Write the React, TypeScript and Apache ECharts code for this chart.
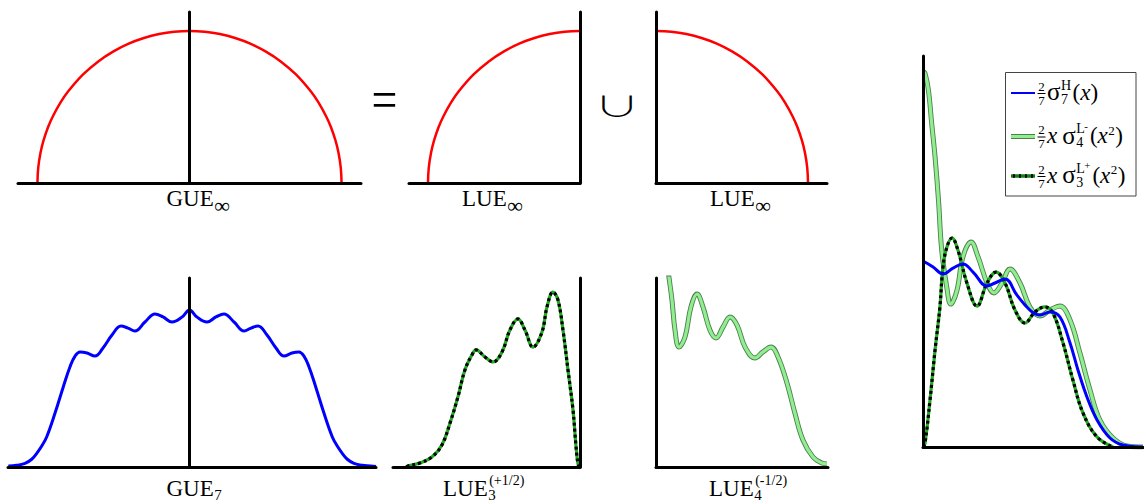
import React, { useEffect, useRef } from "react";
import * as echarts from "echarts";

// ---------- data ----------
// semicircle law (GUE_inf), radius-normalised
const semiX = [-1, -0.995, -0.98, -0.96, -0.93, -0.9, -0.85, -0.8, -0.7, -0.6, -0.5, -0.4, -0.3, -0.2, -0.1, 0, 0.1, 0.2, 0.3, 0.4, 0.5, 0.6, 0.7, 0.8, 0.85, 0.9, 0.93, 0.96, 0.98, 0.995, 1];
const semiY = [0, 0.1, 0.199, 0.28, 0.368, 0.436, 0.527, 0.6, 0.714, 0.8, 0.866, 0.917, 0.954, 0.98, 0.995, 1, 0.995, 0.98, 0.954, 0.917, 0.866, 0.8, 0.714, 0.6, 0.527, 0.436, 0.368, 0.28, 0.199, 0.1, 0];

// GUE_7 density
const gue7X = [-1.192, -1.137, -1.082, -1.038, -1.005, -0.972, -0.939, -0.885, -0.83, -0.786, -0.753, -0.72, -0.674, -0.622, -0.569, -0.51, -0.451, -0.405, -0.359, -0.293, -0.227, -0.174, -0.115, -0.049, 0, 0.049, 0.115, 0.174, 0.227, 0.293, 0.359, 0.405, 0.451, 0.51, 0.569, 0.622, 0.674, 0.72, 0.753, 0.786, 0.83, 0.885, 0.939, 0.972, 1.005, 1.038, 1.082, 1.137, 1.192, 1.227];
const gue7Y = [0.007, 0.011, 0.024, 0.051, 0.09, 0.138, 0.199, 0.353, 0.528, 0.66, 0.73, 0.757, 0.75, 0.73, 0.783, 0.868, 0.928, 0.914, 0.895, 0.954, 1.007, 0.987, 0.954, 0.987, 1.033, 0.987, 0.954, 0.987, 1.007, 0.954, 0.895, 0.914, 0.928, 0.868, 0.783, 0.73, 0.75, 0.757, 0.73, 0.66, 0.528, 0.353, 0.199, 0.138, 0.09, 0.051, 0.024, 0.011, 0.007, 0.003];

// LUE_3^(+1/2) density (mirrored, axis on the right)
const lue3X = [-1.14, -1.132, -1.053, -0.974, -0.908, -0.855, -0.803, -0.757, -0.711, -0.684, -0.625, -0.572, -0.513, -0.461, -0.408, -0.362, -0.309, -0.25, -0.217, -0.178, -0.145, -0.112, -0.079, -0.046, -0.026, -0.013, -0.003];
const lue3Y = [0, 0.007, 0.026, 0.066, 0.145, 0.289, 0.461, 0.638, 0.737, 0.77, 0.724, 0.691, 0.757, 0.901, 0.974, 0.901, 0.789, 0.888, 1.053, 1.151, 1.099, 0.901, 0.638, 0.375, 0.132, 0.02, 0];

// LUE_4^(-1/2) density
const lue4X = [0.066, 0.086, 0.105, 0.125, 0.151, 0.191, 0.23, 0.27, 0.309, 0.355, 0.395, 0.441, 0.487, 0.533, 0.586, 0.651, 0.704, 0.757, 0.803, 0.862, 0.914, 0.967, 1.033, 1.092, 1.125];
const lue4Y = [1.388, 1.243, 1.099, 0.901, 0.789, 0.855, 1.053, 1.138, 1.053, 0.901, 0.849, 0.921, 0.987, 0.934, 0.789, 0.717, 0.757, 0.789, 0.724, 0.553, 0.355, 0.178, 0.066, 0.026, 0.02];

// right panel: (2/7) sigma_7^H(x)
const hX = [0, 0.056, 0.111, 0.167, 0.222, 0.278, 0.356, 0.4, 0.456, 0.522, 0.594, 0.65, 0.706, 0.761, 0.817, 0.861, 0.911, 0.967, 1.039, 1.111, 1.222];
const hY = [1.033, 1.0, 0.961, 0.994, 1.017, 0.972, 0.894, 0.911, 0.933, 0.844, 0.761, 0.733, 0.75, 0.722, 0.578, 0.428, 0.278, 0.15, 0.05, 0.011, 0];
// right panel: (2/7) x sigma_4^{L-}(x^2)
const lmX = [0, 0.011, 0.03, 0.048, 0.067, 0.086, 0.104, 0.132, 0.154, 0.189, 0.222, 0.267, 0.306, 0.356, 0.394, 0.439, 0.483, 0.539, 0.594, 0.65, 0.706, 0.761, 0.817, 0.872, 0.928, 0.983, 1.056, 1.133, 1.222];
const lmY = [2.085, 2.076, 1.983, 1.8, 1.611, 1.372, 1.094, 0.889, 0.794, 0.872, 1.056, 1.139, 1.056, 0.911, 0.856, 0.911, 0.989, 0.911, 0.778, 0.728, 0.761, 0.783, 0.706, 0.522, 0.317, 0.15, 0.05, 0.006, 0];
// right panel: (2/7) x sigma_3^{L+}(x^2)
const lpX = [0, 0.011, 0.039, 0.067, 0.094, 0.111, 0.133, 0.161, 0.194, 0.244, 0.3, 0.356, 0.406, 0.456, 0.511, 0.567, 0.622, 0.678, 0.722, 0.778, 0.833, 0.889, 0.967, 1.056];
const lpY = [0, 0.02, 0.261, 0.539, 0.778, 1.0, 1.111, 1.161, 1.094, 0.911, 0.783, 0.911, 0.972, 0.911, 0.761, 0.689, 0.75, 0.778, 0.744, 0.578, 0.372, 0.189, 0.056, 0];

// panel labels
const panelLabels = [
  { main: "GUE", sub: "∞", sup: "" },
  { main: "LUE", sub: "∞", sup: "" },
  { main: "LUE", sub: "∞", sup: "" },
  { main: "GUE", sub: "7", sup: "" },
  { main: "LUE", sub: "3", sup: "(+1/2)" },
  { main: "LUE", sub: "4", sup: "(-1/2)" },
];

// ---------- helpers ----------
const SERIF = '"Liberation Serif", "Times New Roman", serif';
const CJK = '"Noto Sans CJK SC", "DejaVu Sans", sans-serif';

let measureCtx: any = null;
function tw(text: string, size: number, italic = false, family = SERIF) {
  if (!measureCtx) measureCtx = document.createElement("canvas").getContext("2d");
  measureCtx.font = `${italic ? "italic " : ""}${size}px ${family}`;
  return measureCtx.measureText(text).width;
}

function txt(text: string, x: number, baseline: number, size: number, o: any = {}) {
  const family = o.family || SERIF;
  const central = o.central ?? 0.3375;
  return {
    type: "text",
    silent: true,
    z: 100,
    x,
    y: baseline - central * size,
    scaleX: o.scaleX ?? 1,
    scaleY: o.scaleY ?? 1,
    style: {
      text,
      fill: "#000",
      fontSize: size,
      fontFamily: family,
      fontStyle: o.italic ? "italic" : "normal",
      fontWeight: o.weight || "normal",
      align: o.align || "left",
      verticalAlign: "middle",
      textAlign: o.align || "left",
      textVerticalAlign: "middle",
    },
  };
}

function zip(xs: number[], ys: number[]) {
  const n = Math.min(xs.length, ys.length);
  const out: number[][] = [];
  for (let i = 0; i < n; i++) out.push([xs[i], ys[i]]);
  return out;
}

const AXIS_LINE = { show: true, onZero: true, lineStyle: { color: "#000", width: 3 } };
function axis(grid: number, min: number, max: number) {
  return {
    type: "value",
    gridIndex: grid,
    min,
    max,
    z: 10,
    axisLine: AXIS_LINE,
    axisTick: { show: false },
    axisLabel: { show: false },
    splitLine: { show: false },
  };
}

function line(grid: number, data: number[][], color: string, width: number, extra: any = {}) {
  return {
    type: "line",
    xAxisIndex: grid,
    yAxisIndex: grid,
    data,
    smooth: 0.4,
    symbol: "none",
    showSymbol: false,
    silent: true,
    clip: true,
    z: extra.z ?? 2,
    lineStyle: { color, width, type: extra.dash || "solid", cap: "butt", join: "round" },
  };
}

function label(x: number, base: number, l: { main: string; sub: string; sup: string }) {
  const els: any[] = [txt(l.main, x, base, 23)];
  const after = x + tw(l.main, 23);
  if (l.sub === "∞") els.push(txt("∞", after + 0.5, base + 7, 22));
  else if (l.sub) els.push(txt(l.sub, after + 0.5, base + 4.5, 15));
  if (l.sup) els.push(txt(l.sup, after + 1.5, base - 11, 14));
  return els;
}

function legendGraphics() {
  const els: any[] = [];
  els.push({
    type: "rect",
    silent: true,
    z: 90,
    shape: { x: 1005.5, y: 72.5, width: 130.5, height: 123.5 },
    style: { fill: "#fff", stroke: "#444", lineWidth: 1 },
  });
  const rows = [93, 136.5, 176];
  const x1 = 1011, x2 = 1035;
  // samples
  els.push({ type: "line", silent: true, z: 95, shape: { x1, y1: rows[0], x2, y2: rows[0] }, style: { stroke: "#0000ff", lineWidth: 2 } });
  els.push({ type: "line", silent: true, z: 95, shape: { x1, y1: rows[1], x2, y2: rows[1] }, style: { stroke: "#4f7f4f", lineWidth: 5 } });
  els.push({ type: "line", silent: true, z: 96, shape: { x1, y1: rows[1], x2, y2: rows[1] }, style: { stroke: "#90ee90", lineWidth: 3 } });
  els.push({ type: "line", silent: true, z: 95, shape: { x1, y1: rows[2], x2, y2: rows[2] }, style: { stroke: "#137f13", lineWidth: 3.5 } });
  els.push({ type: "line", silent: true, z: 96, shape: { x1, y1: rows[2], x2, y2: rows[2] }, style: { stroke: "#000", lineWidth: 3.5, lineDash: [2, 4], lineDashOffset: 4 } });

  const rowSpec = [
    { withX: false, supA: "H", supB: "", sub: "7", arg2: false },
    { withX: true, supA: "L", supB: "-", sub: "4", arg2: true },
    { withX: true, supA: "L", supB: "+", sub: "3", arg2: true },
  ];
  const M = 23; // main size
  const SM = 14; // script size
  rowSpec.forEach((r, i) => {
    const y = rows[i];
    const base = y + 7;
    // fraction 2/7
    els.push(txt("2", 1041.5, y - 2.5, 13, { align: "center" }));
    els.push({ type: "line", silent: true, z: 100, shape: { x1: 1037.5, y1: y + 0.5, x2: 1045.5, y2: y + 0.5 }, style: { stroke: "#000", lineWidth: 1 } });
    els.push(txt("7", 1041.5, y + 11.5, 13, { align: "center" }));
    let x = 1047;
    if (r.withX) {
      els.push(txt("x", x, base, M, { italic: true }));
      x += tw("x", M, true) + 5;
    }
    els.push(txt("σ", x, base, M + 2));
    x += tw("σ", M + 2) + 0.5;
    els.push(txt(r.supA, x, y - 3, SM));
    let supW = tw(r.supA, SM);
    if (r.supB) {
      els.push(txt(r.supB, x + supW - 0.5, y - 7, 11));
      supW += tw(r.supB, 11);
    }
    els.push(txt(r.sub, x, y + 11, SM));
    x += Math.max(supW, tw(r.sub, SM)) + 1.5;
    els.push(txt("(", x, base, M));
    x += tw("(", M);
    els.push(txt("x", x, base, M, { italic: true }));
    x += tw("x", M, true);
    if (r.arg2) {
      els.push(txt("2", x + 0.5, y - 2, 13));
      x += tw("2", 13) + 1;
    }
    els.push(txt(")", x, base, M));
  });
  return els;
}

export default function App() {
  const ref = useRef<HTMLDivElement>(null);
  useEffect(() => {
    if (!ref.current) return;
    const chart = echarts.init(ref.current, undefined, { renderer: "svg" });

    const S = 152; // px per unit in panels 1-6
    const grids = [
      { left: 18, top: 12, width: 343, height: 171 },
      { left: 409, top: 12, width: 171, height: 171 },
      { left: 656, top: 12, width: 171, height: 171 },
      { left: 8, top: 278, width: 368, height: 189 },
      { left: 393, top: 278, width: 187, height: 189 },
      { left: 656, top: 278, width: 172, height: 189 },
      { left: 923, top: 56, width: 221, height: 391 },
    ].map((g) => ({ ...g, containLabel: false, outerBoundsMode: "none", show: false }));

    const xAxes = [
      axis(0, -1.128, 1.128),
      axis(1, -1.125, 0),
      axis(2, 0, 1.125),
      axis(3, -1.194, 1.227),
      axis(4, -1.23, 0),
      axis(5, 0, 1.132),
      axis(6, 0, 1.228),
    ];
    const yAxes = [
      axis(0, 0, 171 / S),
      axis(1, 0, 171 / S),
      axis(2, 0, 171 / S),
      axis(3, 0, 189 / S),
      axis(4, 0, 189 / S),
      axis(5, 0, 189 / S),
      axis(6, 0, 391 / 180),
    ];

    const semi = zip(semiX, semiY);
    const RED = "#ff0000";
    const BLUE = "#0000ff";
    const GREEN = "#22a822";
    const OUTER = "#4f7f4f";
    const LIGHT = "#90ee90";
    const series = [
      line(0, semi, RED, 2.5),
      line(1, semi.filter((p) => p[0] <= 0), RED, 2.5),
      line(2, semi.filter((p) => p[0] >= 0), RED, 2.5),
      line(3, zip(gue7X, gue7Y), BLUE, 3),
      line(4, zip(lue3X, lue3Y), GREEN, 3.2),
      line(4, zip(lue3X, lue3Y), "#000", 3.2, { dash: [3, 3], z: 3 }),
      line(5, zip(lue4X, lue4Y), OUTER, 5),
      line(5, zip(lue4X, lue4Y), LIGHT, 3.2, { z: 3 }),
      line(6, zip(lmX, lmY), OUTER, 5),
      line(6, zip(lmX, lmY), LIGHT, 3.2, { z: 3 }),
      line(6, zip(lpX, lpY), GREEN, 3.2, { z: 4 }),
      line(6, zip(lpX, lpY), "#000", 3.2, { dash: [3, 3], z: 5 }),
      line(6, zip(hX, hY), BLUE, 3, { z: 6 }),
    ];

    const labelPos = [
      [166.5, 206],
      [462, 206],
      [710, 206],
      [166.5, 496],
      [443, 496],
      [709, 496],
    ];
    const graphics: any[] = [];
    panelLabels.forEach((l, i) => graphics.push(...label(labelPos[i][0], labelPos[i][1], l)));
    graphics.push(txt("=", 384.5, 104 + 0.26 * 54, 54, { align: "center", scaleX: 0.85 }));
    graphics.push(txt("∪", 617, 105 + 0.38 * 38, 38, { align: "center", family: CJK, central: 0.38, weight: 300, scaleX: 1.2, scaleY: 0.75 }));
    graphics.push(...legendGraphics());

    chart.setOption({
      animation: false,
      backgroundColor: "#fff",
      grid: grids,
      xAxis: xAxes,
      yAxis: yAxes,
      series,
      graphic: { elements: graphics },
    });
    return () => chart.dispose();
  }, []);

  return (
    <div
      ref={ref}
      style={{ position: "fixed", left: 0, top: 0, width: 1144, height: 503, background: "#fff" }}
    />
  );
}
